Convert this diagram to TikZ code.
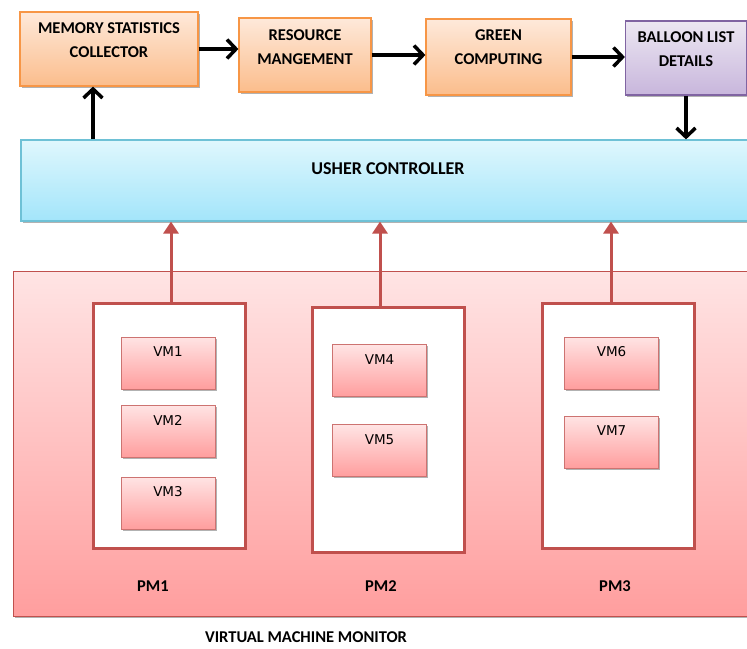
\documentclass[tikz,border=0pt]{standalone}
\usepackage{fontspec}
\setmainfont{Carlito}
\newfontfamily\vmfont{DejaVu Sans}
\usetikzlibrary{arrows.meta,shadows}
\definecolor{obord}{HTML}{F79646}
\definecolor{otop}{HTML}{FEE9DA}
\definecolor{obot}{HTML}{FBBD8C}
\definecolor{pbord}{HTML}{8064A2}
\definecolor{ptop}{HTML}{ECE7F2}
\definecolor{pbot}{HTML}{C8B6DC}
\definecolor{bbord}{HTML}{6EC1D6}
\definecolor{btop}{HTML}{DFF7FD}
\definecolor{bbot}{HTML}{A3E5FA}
\definecolor{rbord}{HTML}{C0504D}
\definecolor{rtop}{HTML}{FFE4E4}
\definecolor{rbot}{HTML}{FF9E9E}
\tikzset{
  shad/.style={drop shadow={shadow xshift=1.5pt,shadow yshift=-1.5pt,opacity=.3,fill=black}},
  obox/.style={draw=obord,line width=1.2pt,top color=otop,bottom color=obot,shad},
  pbox/.style={draw=pbord,line width=1.2pt,top color=ptop,bottom color=pbot,shad},
  ubox/.style={draw=bbord,line width=1.2pt,top color=btop,bottom color=bbot,shad},
  vmbox/.style={draw=rbord!80,line width=1pt,top color=rtop,bottom color=rbot,shad,minimum width=94pt,minimum height=52pt},
  pmbox/.style={draw=rbord,line width=3pt,fill=white,minimum width=152pt,minimum height=245pt},
  hd/.style={font=\fontsize{16.5}{23.5}\selectfont\bfseries,align=center,inner sep=0pt},
  vmtxt/.style={font=\vmfont\fontsize{13.5}{15}\selectfont,inner sep=0pt},
  blk/.style={line width=3.5pt,-{Straight Barb[length=9pt,width=19pt]}},
  rarr/.style={draw=rbord,line width=3pt,-{Triangle[length=12pt,width=15pt]}}
}
\begin{document}
\begin{tikzpicture}[x=1pt,y=-1pt]
\clip(0,0)rectangle(747,648);
% top row
\node[obox,minimum width=178pt,minimum height=74pt](mem)at(109,49){};
\node[hd](memt)at([yshift=9pt]mem.center){MEMORY STATISTICS\\COLLECTOR};
\node[obox,minimum width=132pt,minimum height=74pt](res)at(305,55){};
\node[hd](rest)at([yshift=8pt]res.center){RESOURCE\\MANGEMENT};
\node[obox,minimum width=145pt,minimum height=76pt](grn)at(498.5,57){};
\node[hd](grnt)at([yshift=10pt]grn.center){GREEN\\COMPUTING};
\node[pbox,minimum width=121pt,minimum height=74pt](bal)at(686,58){};
\node[hd](balt)at([yshift=9pt]bal.center){BALLOON LIST\\DETAILS};
% controller
\node[ubox,minimum width=749pt,minimum height=81pt](ush)at(395.5,180.5){};
\node[hd,font=\fontsize{18}{20}\selectfont\bfseries](usht)at([xshift=-7.5pt,yshift=11.5pt]ush.center){USHER CONTROLLER};
% monitor
\node[draw=rbord,line width=1pt,top color=rtop,bottom color=rbot,shad,minimum width=749pt,minimum height=345pt](vmm)at(387.5,443.5){};
\foreach \n/\x/\y in {1/169/425.5,2/388/429.5,3/618/425.5}{
  \node[pmbox](pm\n)at(\x,\y){};
}
\foreach \n/\x/\y in {1/168/363,2/168/431,3/168/503,4/379.5/370.5,5/379.5/450.5,6/611.5/363,7/611.5/442}{
  \node[vmbox](vm\n)at(\x,\y){};
  \node[vmtxt](vm\n t)at([yshift=11pt]vm\n.center){VM\n};
}
\node[hd](pm1t)at(153,586){PM1};
\node[hd](pm2t)at(381,586){PM2};
\node[hd](pm3t)at(615,586){PM3};
\node[hd](vmmt)at(306,637.5){VIRTUAL MACHINE MONITOR};
% connectors
\draw[blk](mem.east)--(mem.east-|res.west);
\draw[blk](res.east)--(res.east-|grn.west);
\draw[blk](grn.east)--(grn.east-|bal.west);
\draw[blk]([xshift=-16pt]mem.south|-ush.north)--([xshift=-16pt]mem.south);
\draw[blk](bal.south)--(bal.south|-ush.north);
\draw[rarr]([xshift=2pt]pm1.north)--([xshift=2pt]pm1.north|-ush.south);
\draw[rarr]([xshift=-8pt]pm2.north)--([xshift=-8pt]pm2.north|-ush.south);
\draw[rarr]([xshift=-7pt]pm3.north)--([xshift=-7pt]pm3.north|-ush.south);
\end{tikzpicture}
\end{document}
